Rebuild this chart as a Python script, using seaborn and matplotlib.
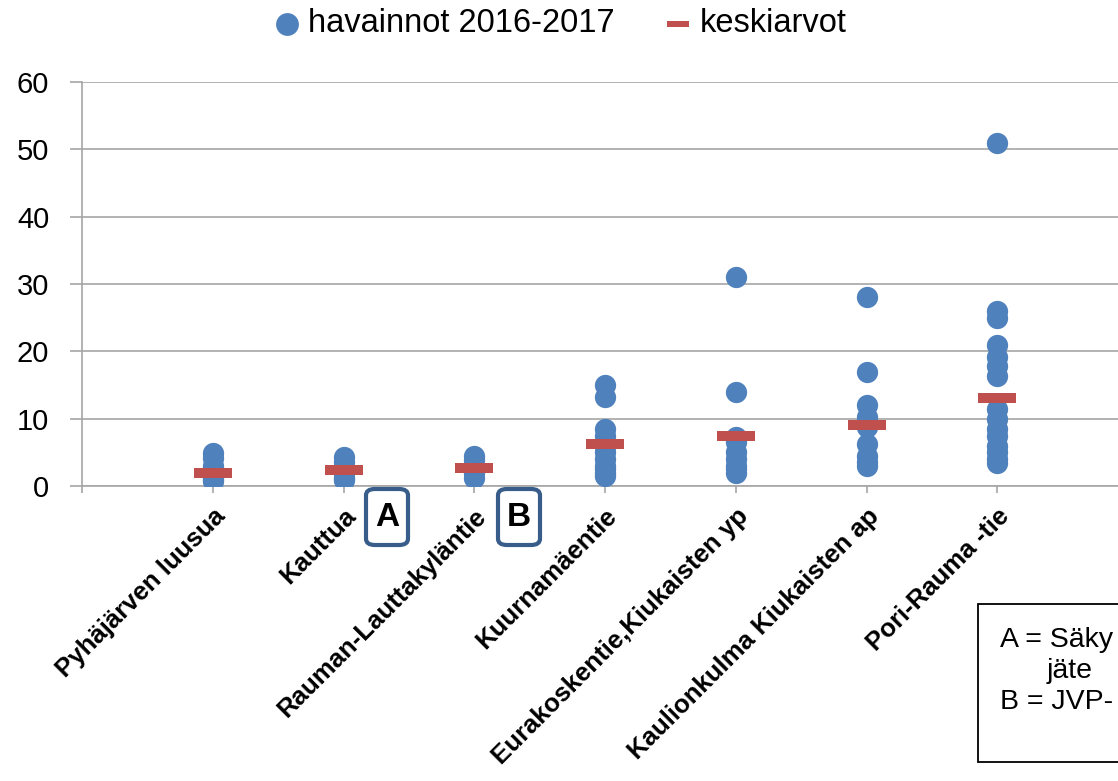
import numpy as np
import pandas as pd
import matplotlib
matplotlib.use("Agg")
import matplotlib.pyplot as plt
from matplotlib.patches import Rectangle, FancyBboxPatch
from matplotlib.transforms import ScaledTranslation
import seaborn as sns

categories = ["Pyhäjärven luusua", "Kauttua", "Rauman-Lauttakyläntie", "Kuurnamäentie",
              "Eurakoskentie,Kiukaisten yp", "Kaulionkulma Kiukaisten ap", "Pori-Rauma -tie"]

obs_pyhajarvi = [4.9, 4.2, 3.0, 2.0, 1.5, 1.0, 0.7]
obs_kauttua = [4.3, 3.5, 2.5, 2.0, 1.2, 0.9]
obs_rauman = [4.5, 3.8, 2.8, 2.0, 1.2]
obs_kuurnamaki = [15.0, 13.2, 8.4, 7.5, 6.0, 5.0, 4.0, 3.0, 2.5, 2.0, 1.5]
obs_eurakoski = [31.0, 14.0, 7.3, 6.5, 5.0, 4.0, 3.0, 2.5, 2.0]
obs_kaulionkulma = [28.0, 17.0, 12.1, 10.3, 8.7, 6.3, 4.5, 3.5, 3.0]
obs_porirauma = [51.0, 26.0, 25.0, 21.0, 19.2, 17.8, 16.3, 11.5, 10.0, 8.5, 7.5, 6.0, 5.0, 4.0, 3.4]

means = [2.0, 2.4, 2.7, 6.3, 7.4, 9.1, 13.1]

yticks = [0, 10, 20, 30, 40, 50, 60]

obs_lists = [obs_pyhajarvi, obs_kauttua, obs_rauman, obs_kuurnamaki,
             obs_eurakoski, obs_kaulionkulma, obs_porirauma]

rows = []
for i, vals in enumerate(obs_lists):
    for v in vals:
        rows.append({"pos": i + 1, "value": v})
df_obs = pd.DataFrame(rows)
df_mean = pd.DataFrame({"pos": np.arange(1, len(means) + 1), "value": means})

sns.set_theme(style="white")
plt.rcParams['font.family'] = ['Liberation Sans', 'DejaVu Sans']
plt.rcParams['text.color'] = 'black'
plt.rcParams['xtick.labelcolor'] = 'black'
plt.rcParams['ytick.labelcolor'] = 'black'

W, H = 1118, 781
fig = plt.figure(figsize=(W / 100, H / 100), dpi=100)
ax = fig.add_axes([82 / W, 1 - 486 / H, (1128 - 82) / W, (486 - 82) / H])

blue = "#4F81BD"
red = "#C0504D"

sns.scatterplot(data=df_obs, x="pos", y="value", ax=ax, color=blue, s=235,
                linewidth=0, label="havainnot 2016-2017", zorder=3)
dash = [(-1.9, -0.5), (1.9, -0.5), (1.9, 0.5), (-1.9, 0.5), (-1.9, -0.5)]
sns.scatterplot(data=df_mean, x="pos", y="value", ax=ax, color=red, s=750,
                marker=dash, linewidth=0, label="keskiarvot", zorder=4)

ax.set_xlim(0, 8)
ax.set_ylim(0, 60)
ax.set_yticks(yticks)
ax.set_yticklabels([str(t) for t in yticks], fontsize=21)
ax.set_xticks(np.arange(0, len(categories) + 1))
ax.set_xticklabels([""] + categories, rotation=45, ha="right", rotation_mode="anchor",
                   fontsize=18.5, fontweight="bold")
offset = ScaledTranslation(-0.12, -0.02, fig.dpi_scale_trans)
for lab in ax.get_xticklabels():
    lab.set_transform(lab.get_transform() + offset)
ax.set_xlabel("")
ax.set_ylabel("")
ax.yaxis.grid(True, color="#A6A6A6", linewidth=1.2)
ax.set_axisbelow(True)
for s in ["top", "right"]:
    ax.spines[s].set_visible(False)
for s in ["left", "bottom"]:
    ax.spines[s].set_color("#A6A6A6")
    ax.spines[s].set_linewidth(1.2)
ax.tick_params(axis="y", length=8.5, width=1.2, color="#A6A6A6", pad=15, direction="out", left=True)
ax.tick_params(axis="x", length=5, width=1.2, color="#A6A6A6", pad=8, direction="out", bottom=True)

leg = ax.get_legend()
if leg is not None:
    leg.remove()
handles, labels = ax.get_legend_handles_labels()
flegend = fig.legend(handles, labels, loc="center", bbox_to_anchor=(556 / W, 1 - 24 / H),
                     ncol=2, frameon=False, fontsize=23.5, handletextpad=0.0,
                     columnspacing=1.3, handlelength=1.3)
lh = flegend.legend_handles
lh[0].set_sizes([270])
lh[1].set_sizes([260])

# A / B boxes
for lbl, x0 in [("A", 366), ("B", 498)]:
    box = FancyBboxPatch((x0 / W, 1 - 545 / H), 42 / W, 56 / H,
                         boxstyle="round,pad=0,rounding_size=0.008",
                         transform=fig.transFigure, facecolor="white",
                         edgecolor="#385D8A", linewidth=3)
    fig.patches.append(box)
    fig.text((x0 + 21) / W, 1 - 518 / H, lbl, ha="center", va="center",
             fontsize=24, fontweight="bold", color="black")

# explanation box (cropped at right edge in the reference)
rect = Rectangle((978 / W, 1 - 762 / H), 200 / W, (762 - 604) / H,
                 transform=fig.transFigure, facecolor="white", edgecolor="black",
                 linewidth=1.3)
fig.patches.append(rect)
fig.text(1000 / W, 1 - 640 / H, "A = Säky", ha="left", va="center", fontsize=20.5)
fig.text(1047 / W, 1 - 671 / H, "jäte", ha="left", va="center", fontsize=20.5)
fig.text(1000 / W, 1 - 702 / H, "B = JVP-", ha="left", va="center", fontsize=20.5)

fig.savefig("out.png", dpi=100)
